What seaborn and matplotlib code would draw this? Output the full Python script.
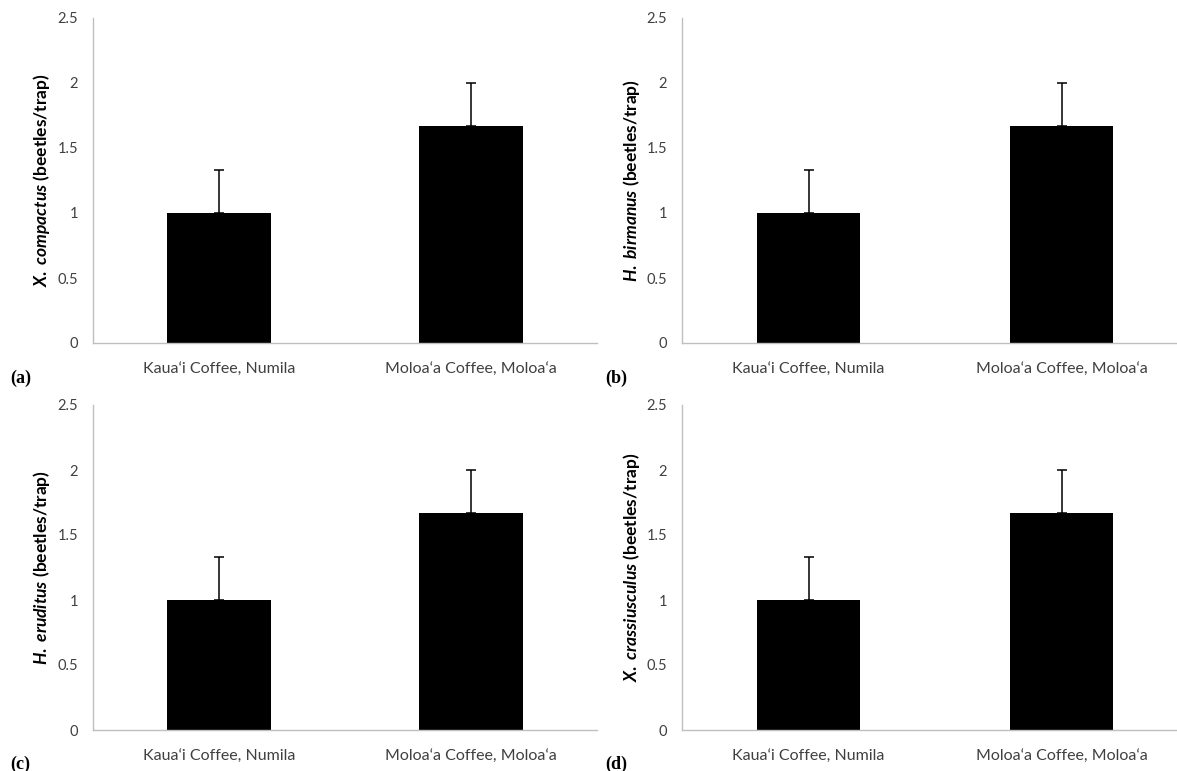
import matplotlib
matplotlib.use("Agg")
import matplotlib.pyplot as plt
import seaborn as sns
import pandas as pd

# ---- data ----
sites = ["Kaua\u2018i Coffee, Numila", "Moloa\u2018a Coffee, Moloa\u2018a"]
species = ["X. compactus", "H. birmanus", "H. eruditus", "X. crassiusculus"]
panel_tags = ["(a)", "(b)", "(c)", "(d)"]
means_a = [1.0, 1.667]
means_b = [1.0, 1.667]
means_c = [1.0, 1.667]
means_d = [1.0, 1.667]
se_a = [0.333, 0.333]
se_b = [0.333, 0.333]
se_c = [0.333, 0.333]
se_d = [0.333, 0.333]
yticks = [0, 0.5, 1, 1.5, 2, 2.5]
ytick_labels = ["0", "0.5", "1", "1.5", "2", "2.5"]

all_means = [means_a, means_b, means_c, means_d]
all_se = [se_a, se_b, se_c, se_d]

sns.set_style("white")
plt.rcParams["font.family"] = ["Lato", "DejaVu Sans"]
plt.rcParams["mathtext.fontset"] = "custom"
plt.rcParams["mathtext.it"] = "Lato:italic:bold"
plt.rcParams["mathtext.rm"] = "Lato:bold"
plt.rcParams["mathtext.bf"] = "Lato:bold"

W, H = 1177, 771
fig = plt.figure(figsize=(W / 100, H / 100), dpi=100)

# axes in pixel coordinates: left, right, y of top (2.5), y of zero
boxes = [
    (93, 597, 18, 343),
    (682, 1188, 18, 343),
    (93, 597, 405, 730),
    (682, 1188, 405, 730),
]
tag_pos = [(10, 378), (605, 378), (10, 764), (605, 764)]

grey = "#BFBFBF"
tick_color = "#404040"

for i, (l, r, t, b) in enumerate(boxes):
    ax = fig.add_axes([l / W, 1 - b / H, (r - l) / W, (b - t) / H])
    df = pd.DataFrame({"site": sites, "mean": all_means[i]})
    sns.barplot(data=df, x="site", y="mean", order=sites, color="black",
                saturation=1, width=0.41, errorbar=None, ax=ax,
                edgecolor="black", linewidth=0)
    xs = range(len(sites))
    ax.errorbar(list(xs), all_means[i], yerr=[[0] * len(sites), all_se[i]],
                fmt="none", ecolor="black", elinewidth=1.1, capsize=3.5,
                capthick=1.1, zorder=3)
    ax.set_xlim(-0.5, 1.5)
    ax.set_ylim(0, 2.5)
    ax.set_yticks(yticks)
    ax.set_yticklabels(ytick_labels)
    ax.tick_params(axis="y", length=0, labelsize=10.5, colors=tick_color, pad=10.8)
    ax.tick_params(axis="x", length=0, labelsize=11.5, colors=tick_color, pad=14)
    for s in ["top", "right"]:
        ax.spines[s].set_visible(False)
    for s in ["left", "bottom"]:
        ax.spines[s].set_color(grey)
        ax.spines[s].set_linewidth(1.0)
    genus, epithet = species[i].split(" ")
    ax.set_xlabel("")
    ax.set_ylabel(r"$\mathit{" + genus + r"}$ $\mathit{" + epithet + r"}$ (beetles/trap)",
                  fontsize=12.5, fontweight="bold", color="black")
    ax.yaxis.set_label_coords(-51 / (r - l), 0.5)
    ax.yaxis.label.set_va("center")

for tag, (x, y) in zip(panel_tags, tag_pos):
    fig.text(x / W, 1 - y / H, tag, fontsize=13, fontweight="bold",
             family=["Liberation Serif", "DejaVu Serif"], va="center",
             ha="left", color="black")

fig.savefig("out.png", dpi=100)
